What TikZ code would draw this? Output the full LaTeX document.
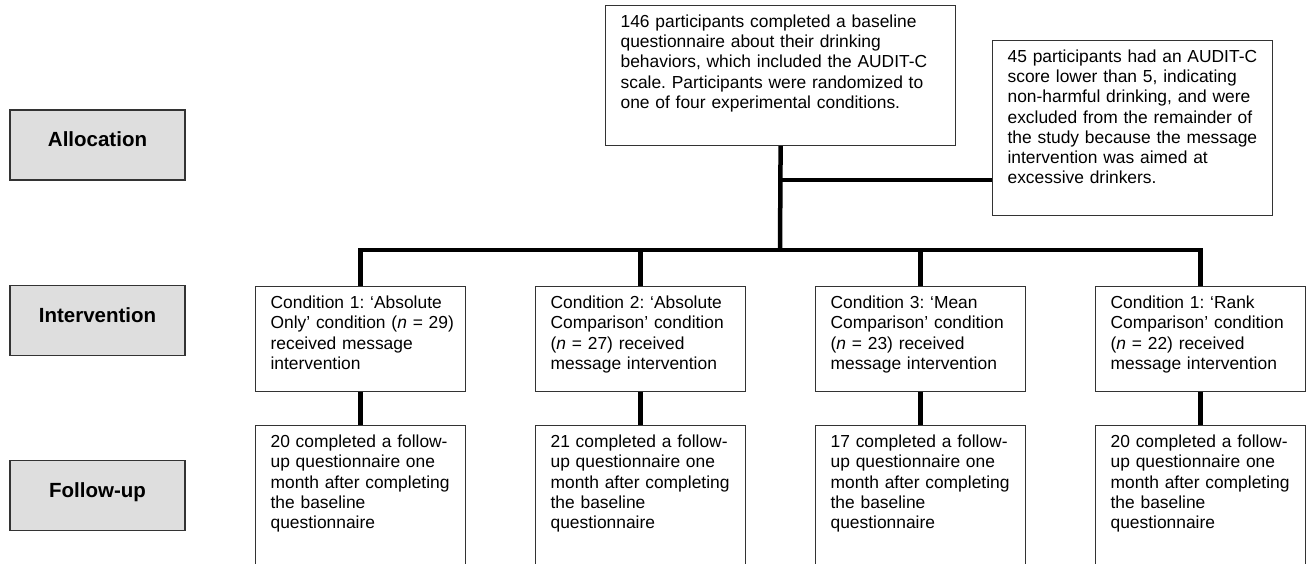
\documentclass[tikz,border=0pt]{standalone}
\usepackage{fontspec}
\setmainfont{Liberation Sans}
\usetikzlibrary{positioning}
\frenchspacing

\begin{document}
\begin{tikzpicture}[x=1pt,y=-1pt]
  \useasboundingbox (0,0) rectangle (1315,564);
  % stage labels on the left
  \begin{scope}[every node/.style={draw=black!80,line width=1.2pt,fill=black!13,
      minimum width=175pt,minimum height=70pt,text height=15pt,text depth=11pt,
      font=\fontsize{20.5}{24}\selectfont\bfseries}]
    \node (alloc) at (97.5,145) {Allocation};
    \node (interv) at (97.5,320.5) {Intervention};
    \node (follow) at (97.5,495.5) {Follow-up};
  \end{scope}
  % text boxes
  \begin{scope}[every node/.style={draw=black!80,line width=1.2pt,anchor=north west,
      align=left,inner xsep=15pt,inner ysep=9pt,text height=13pt,
      font=\fontsize{17.4}{20.2}\selectfont}]
    \node[text width=320pt,text depth=109pt] (base) at (605,5)
      {146 participants completed a baseline\\questionnaire about their drinking\\behaviors, which included the AUDIT-C\\scale. Participants were randomized to\\one of four experimental conditions.};
    \node[text width=250pt,text depth=144pt] (excl) at (992,40)
      {45 participants had an AUDIT-C\\score lower than 5, indicating\\non-harmful drinking, and were\\excluded from the remainder of\\the study because the message\\intervention was aimed at\\excessive drinkers.};
    \node[text width=180pt,text depth=74pt] (cond1) at (255,286)
      {Condition 1: `Absolute\\\mbox{Only' condition (\textit{n} = 29)}\\received message\\intervention};
    \node[text width=180pt,text depth=74pt] (cond2) at (535,286)
      {Condition 2: `Absolute\\Comparison' condition\\(\textit{n}~=~27) received\\message intervention};
    \node[text width=180pt,text depth=74pt] (cond3) at (815,286)
      {Condition 3: `Mean\\Comparison' condition\\(\textit{n}~=~23) received\\message intervention};
    \node[text width=180pt,text depth=74pt] (cond4) at (1095,286)
      {Condition 1: `Rank\\Comparison' condition\\(\textit{n}~=~22) received\\message intervention};
    \node[text width=180pt,text depth=129pt] (fol1) at (255,425)
      {20 completed a follow-\\up questionnaire one\\month after completing\\the baseline\\questionnaire};
    \node[text width=180pt,text depth=129pt] (fol2) at (535,425)
      {21 completed a follow-\\up questionnaire one\\month after completing\\the baseline\\questionnaire};
    \node[text width=180pt,text depth=129pt] (fol3) at (815,425)
      {17 completed a follow-\\up questionnaire one\\month after completing\\the baseline\\questionnaire};
    \node[text width=180pt,text depth=129pt] (fol4) at (1095,425)
      {20 completed a follow-\\up questionnaire one\\month after completing\\the baseline\\questionnaire};
  \end{scope}
  % connectors
  \coordinate (bar) at (780,250);
  \coordinate (split) at (780,180);
  \begin{scope}[line width=4.5pt]
    \draw (base.south) -- (bar);
    \draw (split) -- (split -| excl.west);
    \draw (cond1.north) |- (bar) -| (cond4.north);
    \draw (cond2.north) -- (cond2.north |- bar);
    \draw (cond3.north) -- (cond3.north |- bar);
    \foreach \i in {1,...,4}
      \draw (cond\i.south) -- (fol\i.north);
  \end{scope}
\end{tikzpicture}
\end{document}
